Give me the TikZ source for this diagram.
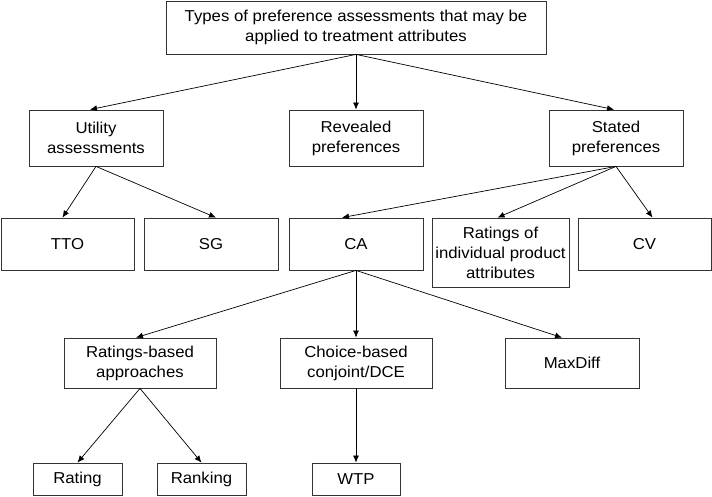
\documentclass[tikz,border=0pt]{standalone}
\usepackage{fontspec}
\setmainfont{Liberation Sans}[FakeStretch=1.06]
\usetikzlibrary{arrows.meta}
\begin{document}
\begin{tikzpicture}[x=1pt,y=-1pt,
  box/.style={draw=black!80,line width=0.8pt,rectangle,inner sep=0pt,align=center,
    font=\fontsize{15.8}{20}\selectfont},
  arr/.style={draw=black,line width=0.7pt,-{Latex[length=7pt,width=6pt]}}]
\useasboundingbox (0,0) rectangle (712,496);
\fill[white] (0,0) rectangle (712,496);
\node[box,minimum width=380pt,minimum height=53pt] (top) at (356,27.5) {Types of preference assessments that may be\\applied to treatment attributes};
\node[box,minimum width=134pt,minimum height=56pt] (util) at (96,138) {Utility\\assessments};
\node[box,minimum width=134pt,minimum height=56pt] (rev) at (356,138) {Revealed\\preferences};
\node[box,minimum width=134pt,minimum height=56pt] (stat) at (616,138) {Stated\\preferences};
\node[box,minimum width=133pt,minimum height=52pt] (tto) at (67.5,244) {TTO};
\node[box,minimum width=134pt,minimum height=52pt] (sg) at (211,244) {SG};
\node[box,minimum width=134pt,minimum height=52pt] (ca) at (356,244) {CA};
\node[box,minimum width=137pt,minimum height=69pt] (rat) at (500.5,252.5) {Ratings of\\individual product\\attributes};
\node[box,minimum width=133pt,minimum height=52pt] (cv) at (644.5,244) {CV};
\node[box,minimum width=152pt,minimum height=50pt] (rb) at (140,363) {Ratings-based\\approaches};
\node[box,minimum width=152pt,minimum height=50pt] (cb) at (356,363) {Choice-based\\conjoint/DCE};
\node[box,minimum width=134pt,minimum height=50pt] (md) at (572,363) {MaxDiff};
\node[box,minimum width=89pt,minimum height=32pt] (rating) at (77.5,479) {Rating};
\node[box,minimum width=89pt,minimum height=32pt] (ranking) at (201.5,479) {Ranking};
\node[box,minimum width=88pt,minimum height=32pt] (wtp) at (356,479) {WTP};
\draw[arr] (top.south) -- ([xshift=-6pt]util.north);
\draw[arr] (top.south) -- (rev.north);
\draw[arr] (top.south) -- ([xshift=-2pt]stat.north);
\draw[arr] (util.south) -- ([xshift=-5pt]tto.north);
\draw[arr] (util.south) -- ([xshift=5pt]sg.north);
\draw[arr] (stat.south) -- ([xshift=-14pt]ca.north);
\draw[arr] (stat.south) -- ([xshift=-3pt]rat.north);
\draw[arr] (stat.south) -- ([xshift=8pt]cv.north);
\draw[arr] (ca.south) -- ([xshift=-4pt]rb.north);
\draw[arr] (ca.south) -- (cb.north);
\draw[arr] (ca.south) -- ([xshift=-10pt]md.north);
\draw[arr] (rb.south) -- (rating.north);
\draw[arr] (rb.south) -- (ranking.north);
\draw[arr] (cb.south) -- (wtp.north);
\end{tikzpicture}
\end{document}
